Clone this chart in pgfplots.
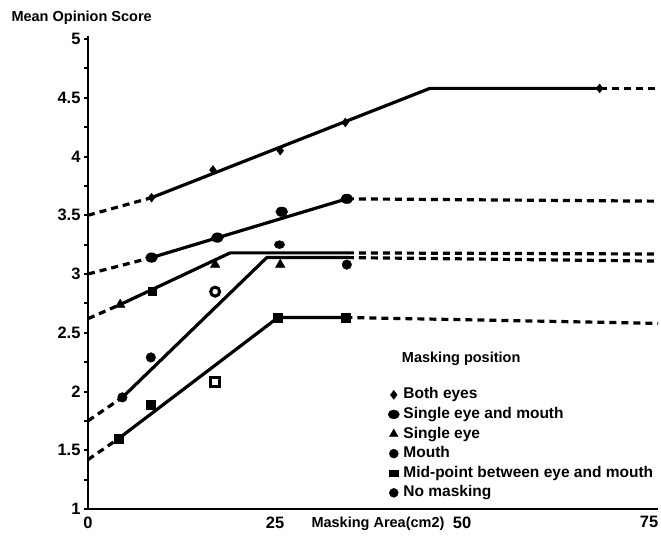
\documentclass[border=0pt]{standalone}
\usepackage{pgfplots}
\pgfplotsset{compat=1.18}
\usepackage{fontspec}
\setmainfont{Liberation Sans}
\begin{document}
\begin{tikzpicture}[x=1pt,y=1pt]
\useasboundingbox (0,0) rectangle (661,540);
\begin{axis}[
  at={(88pt,31pt)}, anchor=south west, scale only axis,
  width=570pt, height=473pt,
  xmin=0, xmax=76.2, ymin=1, ymax=5.026,
  axis x line*=bottom, axis y line*=left,
  axis line style={-, line width=2.7pt, black},
  xtick={0,25,50,75}, x tick style={draw=none},
  ytick={1,1.5,2,2.5,3,3.5,4,4.5,5},
  minor ytick={1.25,1.75,2.25,2.75,3.25,3.75,4.25,4.75},
  y tick style={line width=2pt, black},
  major tick length=4pt, minor tick length=4pt, tick align=outside,
  tick label style={font=\bfseries\fontsize{16.5}{18}\selectfont},
  /pgf/number format/assume math mode=true,
  clip=false,
  sl/.style={black, line width=3.2pt, no markers, forget plot},
  dl/.style={black, line width=3.2pt, dash pattern=on 7pt off 5pt, no markers, forget plot},
  mk/.style={only marks, black, mark options={solid, fill=black, draw=black}, forget plot},
  legend style={at={(axis cs:39.7,2.05)}, anchor=north west, draw=none, fill=none,
    font=\bfseries\fontsize{15.5}{17}\selectfont, row sep=5.6pt, column sep=4pt,
    nodes={inner sep=0pt, text height=11pt, text depth=3pt}},
  legend cell align=left,
]
% ---------- Both eyes
\addplot[dl] coordinates {(0,3.50) (8.5,3.65)};
\addplot[sl] coordinates {(8.5,3.65) (45.7,4.58) (68.4,4.58)};
\addplot[dl] coordinates {(68.4,4.58) (76.2,4.58)};
\addplot[mk, mark=diamond*, mark size=4.5pt] coordinates {(8.5,3.65) (16.7,3.885) (25.7,4.05) (34.4,4.29) (68.4,4.58)};
% ---------- Single eye and mouth
\addplot[dl] coordinates {(0,3.00) (8.5,3.14)};
\addplot[sl] coordinates {(8.5,3.14) (34.6,3.64)};
\addplot[dl] coordinates {(34.6,3.64) (76.2,3.62)};
\addplot[mk, mark=*, mark size=4.8pt, mark options={xscale=1.25}] coordinates {(8.5,3.14) (17.3,3.31) (25.9,3.53) (34.6,3.64)};
% ---------- Single eye
\addplot[dl] coordinates {(0,2.62) (4.3,2.74)};
\addplot[sl] coordinates {(4.3,2.74) (19.0,3.18) (34.6,3.18)};
\addplot[dl] coordinates {(34.6,3.18) (76.2,3.17)};
\addplot[mk, mark=triangle*, mark size=5.5pt] coordinates {(4.3,2.74) (17.0,3.08) (25.7,3.08)};
\addplot[mk, mark=square*, mark size=4pt] coordinates {(8.6,2.85)};
% ---------- Mouth
\addplot[dl] coordinates {(0,1.75) (4.6,1.95)};
\addplot[sl] coordinates {(4.6,1.95) (23.9,3.14) (34.6,3.14)};
\addplot[dl] coordinates {(34.6,3.14) (76.2,3.11)};
\addplot[mk, mark=*, mark size=4.8pt] coordinates {(4.6,1.95) (8.4,2.29) (34.6,3.08)};
\addplot[mk, mark=*, mark size=4pt, mark options={xscale=1.3}] coordinates {(25.6,3.25)};
% ---------- Mid-point between eye and mouth
\addplot[dl] coordinates {(0,1.42) (4.1,1.60)};
\addplot[sl] coordinates {(4.1,1.60) (25.4,2.63) (34.4,2.63)};
\addplot[dl] coordinates {(34.4,2.63) (76.2,2.58)};
\addplot[mk, mark=square*, mark size=4.5pt] coordinates {(4.1,1.60) (8.4,1.89) (25.4,2.63) (34.4,2.63)};
\addplot[only marks, mark=square*, mark size=4.5pt, mark options={fill=white, draw=black, line width=3.5pt}, forget plot] coordinates {(17.0,2.08)};
% ---------- No masking
\addplot[only marks, mark=*, mark size=4.5pt, mark options={fill=white, draw=black, line width=3pt}, forget plot] coordinates {(17.0,2.85)};
% ---------- legend
\addlegendimage{only marks, mark=diamond*, mark size=4.5pt, black}
\addlegendentry{Both eyes}
\addlegendimage{only marks, mark=*, mark size=4.5pt, black, mark options={xscale=1.25}}
\addlegendentry{Single eye and mouth}
\addlegendimage{only marks, mark=triangle*, mark size=5pt, black}
\addlegendentry{Single eye}
\addlegendimage{only marks, mark=*, mark size=4.5pt, black}
\addlegendentry{Mouth}
\addlegendimage{only marks, mark=square*, mark size=4.5pt, black, mark options={yscale=0.65}}
\addlegendentry{Mid-point between eye and mouth}
\addlegendimage{only marks, mark=*, mark size=4.5pt, black}
\addlegendentry{No masking}
\node[anchor=base west, font=\bfseries\fontsize{14.5}{17}\selectfont] at (axis cs:41.5,2.251) {Masking position};
\end{axis}
\node[anchor=base west, font=\bfseries\fontsize{14.5}{17}\selectfont] at (8,518) {Mean Opinion Score};
\node[anchor=base, font=\bfseries\fontsize{14.5}{17}\selectfont] at (378,12) {Masking Area(cm2)};
\end{tikzpicture}
\end{document}
